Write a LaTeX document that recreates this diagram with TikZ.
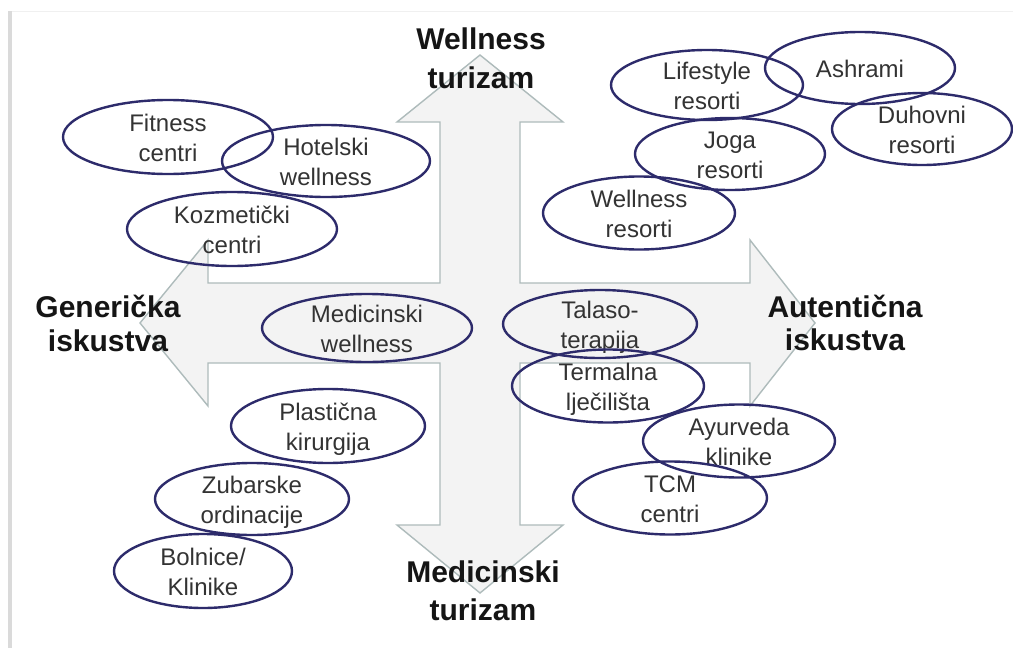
\documentclass[tikz,border=0pt]{standalone}
\usepackage{fontspec}
\setmainfont{Liberation Sans}
\usetikzlibrary{shapes.geometric}
\definecolor{ovalc}{HTML}{2D2B6B}
\definecolor{txtc}{HTML}{333333}
\definecolor{arrf}{HTML}{F3F3F3}
\definecolor{arrd}{HTML}{AEBBBB}
\definecolor{framec}{HTML}{DADADA}
\definecolor{bigc}{HTML}{151515}
\newcommand\stl{\rule[-5pt]{0pt}{28pt}}
\newcommand\stb{\rule[-6pt]{0pt}{28pt}}
\begin{document}
\begin{tikzpicture}[x=1pt,y=-1pt,
 oval/.style 2 args={ellipse, draw=ovalc, line width=2.4pt, inner xsep=-30pt, inner ysep=-15pt,
   minimum width=#1, minimum height=#2, text=txtc, align=center, font=\fontsize{24}{30}\selectfont},
 bigl/.style={align=center, inner sep=0pt, text=bigc, font=\bfseries\fontsize{30}{#1}\selectfont},
 crossarrow/.style={fill=arrf, draw=arrd, line width=1.4pt, line join=miter},
]
\useasboundingbox (0,0) rectangle (1013,648);
\fill[white] (0,0) rectangle (1013,648);
\fill[framec] (8,11) rectangle (12,648);
\draw[black!6, line width=1pt] (12,11) -- (1013,11);

% four-way arrow
\draw[crossarrow] (480,55) -- (563,122) -- (520,122) -- (520,283) -- (750,283) -- (750,240)
  -- (815,323) -- (750,406) -- (750,363) -- (520,363) -- (520,525) -- (563,525)
  -- (480,593) -- (397,525) -- (440,525) -- (440,363) -- (208,363) -- (208,406)
  -- (140,323) -- (208,240) -- (208,283) -- (440,283) -- (440,122) -- (397,122) -- cycle;

% left ovals
\node[oval={210}{74}] (fit) at (168,137) {\stl Fitness\\\stl centri};
\node[oval={208}{72}] (hot) at (326,161) {\stl Hotelski\\\stl wellness};
\node[oval={210}{74}] (koz) at (232,229) {\stl Kozmetički\\\stl centri};
\node[oval={210}{68}] (medw) at (367,328) {\stl Medicinski\\\stl wellness};
\node[oval={194}{74}] (pla) at (328,426) {\stl Plastična\\\stl kirurgija};
\node[oval={194}{72}] (zub) at (252,499) {\stl Zubarske\\\stl ordinacije};
\node[oval={178}{74}] (bol) at (203,571) {\stl Bolnice/\\\stl Klinike};

% right ovals
\node[oval={192}{70}] (lif) at (707,85) {\stl Lifestyle\\\stl resorti};
\node[oval={190}{72}] (ash) at (860,68) {\stl Ashrami};
\node[oval={180}{72}] (duh) at (922,129) {\stl Duhovni\\\stl resorti};
\node[oval={190}{72}] (jog) at (730,154) {\stl Joga\\\stl resorti};
\node[oval={192}{73}] (wel) at (639,213) {\stl Wellness\\\stl resorti};
\node[oval={194}{68}] (tal) at (600,324) {\stl Talaso-\\\stl terapija};
\node[oval={192}{73}] (ter) at (608,386) {\stl Termalna\\\stl lječilišta};
\node[oval={192}{73}] (ayu) at (739,441) {\stl Ayurveda\\\stl klinike};
\node[oval={194}{73}] (tcm) at (670,498) {\stl TCM\\\stl centri};

% axis labels
\node[bigl=39] (wt) at (481,60.5) {\stb Wellness\\\stb turizam};
\node[bigl=34] (gi) at (108,326) {\stb Generička\\\stb iskustva};
\node[bigl=33] (ai) at (845,325.5) {\stb Autentična\\\stb iskustva};
\node[bigl=38] (mt) at (483,593) {\stb Medicinski\\\stb turizam};
\end{tikzpicture}
\end{document}
